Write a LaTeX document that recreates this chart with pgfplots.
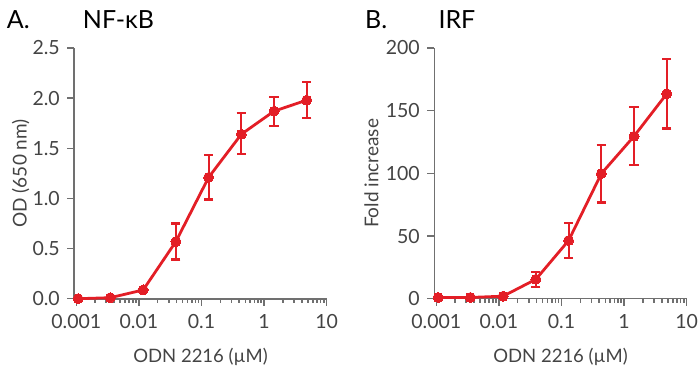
\documentclass[border=0pt]{standalone}
\usepackage{pgfplots}
\pgfplotsset{compat=1.18}
\usepackage{pgfplotstable}
\usepackage{fontspec}
\setmainfont{Lato}
\definecolor{myred}{HTML}{E31E26}
\definecolor{axgrey}{HTML}{707070}
\definecolor{txgrey}{HTML}{444444}

\pgfplotstableread{
x y ep em
0.00107 0 0 0
0.0035 0.01 0 0
0.0117 0.087 0 0
0.039 0.57 0.18 0.18
0.13 1.21 0.22 0.22
0.433 1.64 0.21 0.20
1.44 1.87 0.14 0.15
4.8 1.98 0.18 0.18
}\nfkb

\pgfplotstableread{
x y ep em
0.00107 1 0 0
0.0035 1 0 0
0.0117 2 0 0
0.039 15.5 6.1 5.9
0.13 46.4 13.9 14.1
0.433 99.8 22.6 23.0
1.44 129.6 23.4 23.2
4.8 163.5 27.5 27.7
}\irf

\pgfplotsset{
  myaxis/.style={
    scale only axis, width=252.4pt, height=250.7pt,
    xmin=0.00093, xmax=10, ymin=0,
    axis x line=bottom, axis y line=left,
    axis line style={-, axgrey, line width=1.6pt},
    every tick/.style={axgrey, line width=1.5pt},
    tick align=outside,
    major tick length=7pt, minor tick length=4pt,
    xtick={0.001,0.01,0.1,1,10},
    xticklabels={0.001,0.01,0.1,1,10},
    minor xtick={0.002,0.003,0.004,0.005,0.006,0.007,0.008,0.009,
      0.02,0.03,0.04,0.05,0.06,0.07,0.08,0.09,
      0.2,0.3,0.4,0.5,0.6,0.7,0.8,0.9,
      2,3,4,5,6,7,8,9},
    /pgf/number format/assume math mode=true,
    tick label style={font=\fontsize{19.5}{19.5}\selectfont, text=txgrey},
    xticklabel style={yshift=-5pt},
    clip=false,
  },
}

\begin{document}
\begin{tikzpicture}
\useasboundingbox (0,0) rectangle (700pt,377pt);

\begin{semilogxaxis}[myaxis, at={(74.3pt,78.3pt)}, anchor=south west,
  ymax=2.5, ytick={0,0.5,1,1.5,2,2.5},
  yticklabel style={xshift=-4pt, /pgf/number format/.cd, fixed, fixed zerofill, precision=1},
]
\addplot[myred, line width=2.8pt, mark=*, mark size=5pt,
    mark options={solid, fill=myred, draw=myred, line width=0pt},
    error bars/.cd, y dir=both, y explicit,
    error bar style={line width=2.2pt, myred},
    error mark options={rotate=90, mark size=4.6pt, line width=2.2pt, myred}]
  table[x=x, y=y, y error plus=ep, y error minus=em]{\nfkb};
\end{semilogxaxis}

\begin{semilogxaxis}[myaxis, at={(434.3pt,78.3pt)}, anchor=south west,
  ymax=200, ytick={0,50,100,150,200},
  yticklabel style={xshift=-4pt},
]
\addplot[myred, line width=2.8pt, mark=*, mark size=5pt,
    mark options={solid, fill=myred, draw=myred, line width=0pt},
    error bars/.cd, y dir=both, y explicit,
    error bar style={line width=2.2pt, myred},
    error mark options={rotate=90, mark size=4.6pt, line width=2.2pt, myred}]
  table[x=x, y=y, y error plus=ep, y error minus=em]{\irf};
\end{semilogxaxis}

% titles
\node[anchor=base west, inner sep=0pt, font=\fontsize{25}{25}\selectfont] at (6.7pt,348.7pt) {A.};
\node[anchor=base west, inner sep=0pt, font=\fontsize{25}{25}\selectfont] at (82.7pt,348.7pt) {NF-κB};
\node[anchor=base west, inner sep=0pt, font=\fontsize{25}{25}\selectfont] at (365pt,348.7pt) {B.};
\node[anchor=base west, inner sep=0pt, font=\fontsize{25}{25}\selectfont] at (438.3pt,348.7pt) {IRF};

% axis labels
\node[anchor=base, inner sep=0pt, text=txgrey, font=\fontsize{18.5}{18.5}\selectfont] at (200.5pt,14.7pt) {ODN 2216 (µM)};
\node[anchor=base, inner sep=0pt, text=txgrey, font=\fontsize{18.5}{18.5}\selectfont] at (560.5pt,14.7pt) {ODN 2216 (µM)};
\node[anchor=base, inner sep=0pt, rotate=90, text=txgrey, font=\fontsize{19}{19}\selectfont] at (26.7pt,203.6pt) {OD (650 nm)};
\node[anchor=base, inner sep=0pt, rotate=90, text=txgrey, font=\fontsize{19}{19}\selectfont] at (378.3pt,203.6pt) {Fold increase};
\end{tikzpicture}
\end{document}
